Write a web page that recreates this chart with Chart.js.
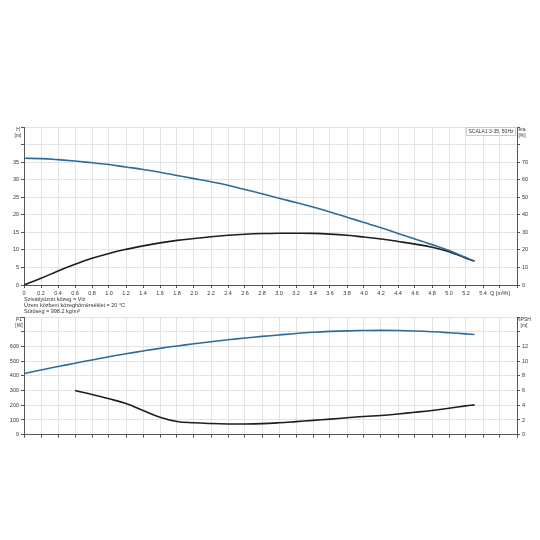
<!DOCTYPE html>
<html>
<head>
<meta charset="utf-8">
<script src="https://cdn.jsdelivr.net/npm/chart.js@4"></script>
<style>
  body { margin: 0; background: #fff; font-family: "Liberation Sans", Arial, sans-serif; }
  #page { position: relative; width: 540px; height: 540px; overflow: hidden; }
  .box { position: absolute; }
  .lbl { position: absolute; font-size: 5.5px; line-height: 6.5px; color: #333; white-space: nowrap; }
  .ttl { position: absolute; font-size: 5px; line-height: 6px; color: #333; white-space: nowrap; text-align: center; width: 14px; }
  #legend { position: absolute; left: 466px; top: 127px; width: 48px; height: 7px; border: 1px solid #ccc;
            background: #fff; font-size: 5px; line-height: 7px; color: #333; text-align: center; white-space: nowrap; }
</style>
</head>
<body>
<div id="page">
  <div class="box" style="left:0;top:0;width:540px;height:300px"><canvas id="topChart"></canvas></div>
  <div class="box" style="left:0;top:300px;width:540px;height:140px"><canvas id="bottomChart"></canvas></div>

  <div class="ttl" style="left:11px;top:126px">H<br>[m]</div>
  <div class="ttl" style="left:515px;top:126px">eta<br>[%]</div>
  <div id="legend">SCALA1 3-35, 50Hz</div>

  <div class="lbl" style="left:24px;top:296px;line-height:6px">Szivattyúzott közeg = Víz<br>Üzem közbeni közeghőmérséklet = 20 °C<br>Sűrűség = 998.2 kg/m³</div>

  <div class="ttl" style="left:12px;top:316px">P1<br>[W]</div>
  <div class="ttl" style="left:517px;top:316px">NPSH<br>[m]</div>
</div>

<script>
// Q [m3/h] points of the curves
const qPoints = [0, 0.2, 0.4, 0.6, 0.8, 1.0, 1.2, 1.4, 1.6, 1.8, 2.0, 2.2, 2.4, 2.6, 2.8,
                 3.0, 3.2, 3.4, 3.6, 3.8, 4.0, 4.2, 4.4, 4.6, 4.8, 5.0, 5.2, 5.3];
// head H [m]
const headM = [36.1, 36.0, 35.7, 35.3, 34.8, 34.3, 33.6, 32.9, 32.1, 31.2, 30.3, 29.4, 28.4, 27.2, 26.0,
               24.7, 23.5, 22.2, 20.8, 19.3, 17.8, 16.3, 14.7, 13.1, 11.5, 9.8, 7.8, 6.8];
// efficiency eta [%]
const etaPct = [0, 3.8, 8.0, 11.8, 15.2, 18.0, 20.3, 22.3, 24.0, 25.4, 26.5, 27.5, 28.3, 28.9, 29.3,
                29.5, 29.5, 29.4, 29.0, 28.3, 27.3, 26.2, 24.8, 23.3, 21.5, 19.0, 15.3, 13.5];
// power P1 [W]
const p1W = [415, 440, 463, 486, 508, 530, 550, 569, 587, 603, 618, 632, 645, 657, 668,
             678, 688, 696, 702, 706, 708, 709, 708, 705, 700, 693, 685, 681];
// NPSH [m], starts at 0.6 m3/h
const qNpsh = [0.6, 0.8, 1.0, 1.2, 1.4, 1.6, 1.8, 2.0, 2.2, 2.4, 2.6, 2.8, 3.0, 3.2, 3.4,
               3.6, 3.8, 4.0, 4.2, 4.4, 4.6, 4.8, 5.0, 5.2, 5.3];
const npshM = [6.0, 5.46, 4.88, 4.24, 3.3, 2.38, 1.8, 1.62, 1.52, 1.46, 1.45, 1.5, 1.62, 1.78, 1.95,
               2.12, 2.3, 2.48, 2.62, 2.82, 3.05, 3.3, 3.6, 3.92, 4.06];

const blue = '#2f6b9a';
const black = '#1e1e1e';
const gridColor = '#e3e3e3';
const axisColor = '#555';
const tickFont = { family: 'Liberation Sans', size: 5.5 };

Chart.defaults.color = '#333';
Chart.defaults.animation = false;

function pts(xs, ys) {
    return xs.map(function (x, i) { return { x: x, y: ys[i] }; });
}

function qLabel(v) {
    let r = Math.round(v * 10) / 10;
    if (Math.abs(r - 5.6) < 1e-6) return 'Q [m³/h]';
    if (r > 5.6) return '';
    return r === 0 ? '0' : r.toFixed(1);
}

function lineSet(data, color, axis) {
    return {
        data: data,
        borderColor: color,
        borderWidth: 1.6,
        pointRadius: 0,
        tension: 0.4,
        fill: false,
        yAxisID: axis
    };
}

function xScale(showLabels, height) {
    return {
        type: 'linear',
        min: 0,
        max: 5.8,
        ticks: { stepSize: 0.2, display: showLabels, font: tickFont, padding: 2, maxRotation: 0, autoSkip: false,
                 callback: qLabel },
        grid: { color: gridColor, tickLength: 3, tickColor: axisColor },
        border: { color: axisColor },
        afterFit: function (s) { s.height = height; }
    };
}

function yScale(pos, max, step, lastLabel, width, onChart) {
    return {
        type: 'linear',
        position: pos,
        min: 0,
        max: max,
        ticks: { stepSize: step, font: tickFont, padding: 2,
                 callback: function (v) { return v <= lastLabel ? v : ''; } },
        grid: { color: gridColor, drawOnChartArea: onChart, tickLength: 3, tickColor: axisColor },
        border: { color: axisColor },
        afterFit: function (s) { s.width = width; }
    };
}

new Chart(document.getElementById('topChart'), {
    type: 'line',
    data: {
        datasets: [
            lineSet(pts(qPoints, headM), blue, 'y'),
            lineSet(pts(qPoints, etaPct), black, 'y2')
        ]
    },
    options: {
        responsive: true,
        maintainAspectRatio: false,
        layout: { padding: { top: 127, left: 0, right: 0, bottom: 0 } },
        plugins: { legend: { display: false }, tooltip: { enabled: false } },
        scales: {
            x: xScale(true, 15),
            y: yScale('left', 45, 5, 35, 24, true),
            y2: yScale('right', 90, 10, 70, 23, false)
        }
    }
});

new Chart(document.getElementById('bottomChart'), {
    type: 'line',
    data: {
        datasets: [
            lineSet(pts(qPoints, p1W), blue, 'y'),
            lineSet(pts(qNpsh, npshM), black, 'y2')
        ]
    },
    options: {
        responsive: true,
        maintainAspectRatio: false,
        layout: { padding: { top: 17, left: 0, right: 0, bottom: 0 } },
        plugins: { legend: { display: false }, tooltip: { enabled: false } },
        scales: {
            x: xScale(false, 5),
            y: yScale('left', 800, 100, 600, 24, true),
            y2: yScale('right', 16, 2, 12, 23, false)
        }
    }
});
</script>
</body>
</html>
